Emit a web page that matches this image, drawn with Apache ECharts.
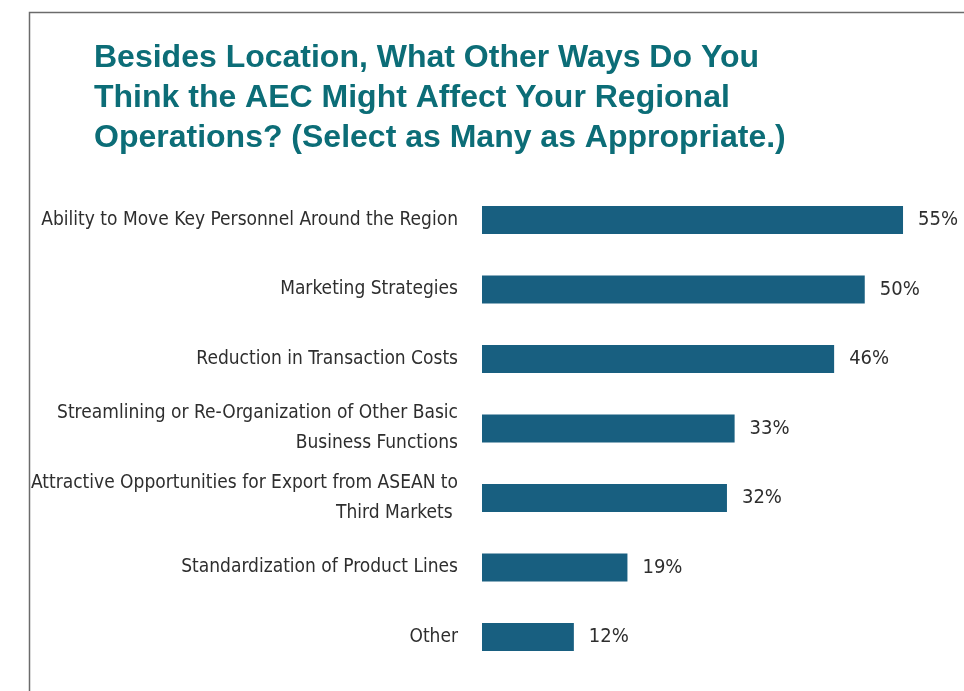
<!DOCTYPE html>
<html>
<head>
<meta charset="utf-8">
<script src="https://cdn.jsdelivr.net/npm/echarts@6/dist/echarts.min.js"></script>
<style>
  html, body { margin: 0; padding: 0; background: #fff; }
  #bar1 { width: 964px; height: 691px; }
</style>
</head>
<body>
<div id="bar1"></div>
<script>
// survey answers, top to bottom
var categories = [
    'Ability to Move Key Personnel Around the Region',
    'Marketing Strategies',
    'Reduction in Transaction Costs',
    'Streamlining or Re-Organization of Other Basic\nBusiness Functions',
    'Attractive Opportunities for Export from ASEAN to\nThird Markets ',
    'Standardization of Product Lines',
    'Other'
]
var shares = [55, 50, 46, 33, 32, 19, 12]   // percent of respondents

var titleText = 'Besides Location, What Other Ways Do You\nThink the AEC Might Affect Your Regional\nOperations? (Select as Many as Appropriate.)'

var narrow = "'Liberation Sans Narrow', 'DejaVu Sans Condensed', sans-serif"

var myChart = echarts.init(document.getElementById('bar1'))

var option = {
    animation: false,
    title: {
        text: titleText,
        left: 89,
        top: 33,
        textStyle: {
            color: '#0c6d77',
            fontFamily: "'Liberation Sans', Arial, sans-serif",
            fontWeight: 'bold',
            fontSize: 32,
            lineHeight: 40
        }
    },
    graphic: [
        {
            // outer frame, runs off the right and bottom edge
            type: 'rect',
            shape: { x: 29.5, y: 12.5, width: 1000, height: 800 },
            style: { fill: 'none', stroke: '#6b6b6b', lineWidth: 1.5 },
            silent: true
        }
    ],
    grid: {
        left: 482,
        right: 22.7,
        top: 185.2,
        bottom: 19.2,
        containLabel: false,
        outerBoundsMode: 'none'
    },
    xAxis: {
        type: 'value',
        min: 0,
        max: 60,
        show: false,
        splitLine: { show: false }
    },
    yAxis: {
        type: 'category',
        inverse: true,
        data: categories,
        axisLine: { show: false },
        axisTick: { show: false },
        axisLabel: {
            margin: 24,
            color: '#2e2e2e',
            fontFamily: narrow,
            fontSize: 19,
            lineHeight: 30,
            align: 'right'
        }
    },
    series: [
        {
            type: 'bar',
            data: shares,
            barWidth: 28,
            itemStyle: { color: '#185f80' },
            label: {
                show: true,
                position: 'right',
                distance: 15,
                formatter: '{c}%',
                color: '#2e2e2e',
                fontFamily: narrow,
                fontSize: 20
            }
        }
    ]
}

myChart.setOption(option)
window.onresize = myChart.resize
</script>
</body>
</html>
